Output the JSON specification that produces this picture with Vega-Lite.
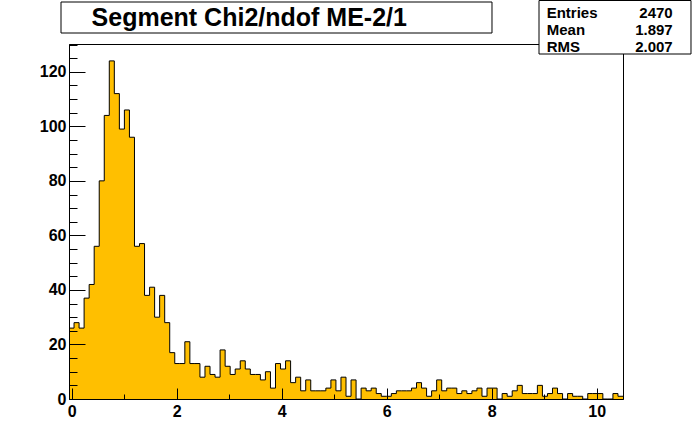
{
  "$schema": "https://vega.github.io/schema/vega-lite/v6.json",
  "width": 554,
  "height": 355,
  "autosize": {"type": "none"},
  "padding": {"left": 69, "top": 44, "right": 69, "bottom": 45},
  "background": "white",
  "config": {
    "view": {"stroke": "black", "strokeWidth": 1},
    "axis": {"grid": false, "title": null}
  },
  "datasets": {
    "hist": [
      {"lo": -0.05, "hi": 0.0459, "n": 26},
      {"lo": 0.0459, "hi": 0.1418, "n": 28},
      {"lo": 0.1418, "hi": 0.2377, "n": 26},
      {"lo": 0.2377, "hi": 0.3336, "n": 37},
      {"lo": 0.3336, "hi": 0.4295, "n": 42},
      {"lo": 0.4295, "hi": 0.5255, "n": 56},
      {"lo": 0.5255, "hi": 0.6214, "n": 80},
      {"lo": 0.6214, "hi": 0.7173, "n": 104},
      {"lo": 0.7173, "hi": 0.8132, "n": 124},
      {"lo": 0.8132, "hi": 0.9091, "n": 112},
      {"lo": 0.9091, "hi": 1.005, "n": 99},
      {"lo": 1.005, "hi": 1.1009, "n": 106},
      {"lo": 1.1009, "hi": 1.1968, "n": 96},
      {"lo": 1.1968, "hi": 1.2927, "n": 56},
      {"lo": 1.2927, "hi": 1.3886, "n": 57},
      {"lo": 1.3886, "hi": 1.4845, "n": 38},
      {"lo": 1.4845, "hi": 1.5805, "n": 41},
      {"lo": 1.5805, "hi": 1.6764, "n": 30},
      {"lo": 1.6764, "hi": 1.7723, "n": 38},
      {"lo": 1.7723, "hi": 1.8682, "n": 28},
      {"lo": 1.8682, "hi": 1.9641, "n": 17},
      {"lo": 1.9641, "hi": 2.06, "n": 13},
      {"lo": 2.06, "hi": 2.1559, "n": 13},
      {"lo": 2.1559, "hi": 2.2518, "n": 21},
      {"lo": 2.2518, "hi": 2.3477, "n": 13},
      {"lo": 2.3477, "hi": 2.4436, "n": 13},
      {"lo": 2.4436, "hi": 2.5395, "n": 8},
      {"lo": 2.5395, "hi": 2.6355, "n": 12},
      {"lo": 2.6355, "hi": 2.7314, "n": 9},
      {"lo": 2.7314, "hi": 2.8273, "n": 8},
      {"lo": 2.8273, "hi": 2.9232, "n": 18},
      {"lo": 2.9232, "hi": 3.0191, "n": 12},
      {"lo": 3.0191, "hi": 3.115, "n": 9},
      {"lo": 3.115, "hi": 3.2109, "n": 11},
      {"lo": 3.2109, "hi": 3.3068, "n": 14},
      {"lo": 3.3068, "hi": 3.4027, "n": 11},
      {"lo": 3.4027, "hi": 3.4986, "n": 9},
      {"lo": 3.4986, "hi": 3.5945, "n": 9},
      {"lo": 3.5945, "hi": 3.6905, "n": 7},
      {"lo": 3.6905, "hi": 3.7864, "n": 10},
      {"lo": 3.7864, "hi": 3.8823, "n": 4},
      {"lo": 3.8823, "hi": 3.9782, "n": 13},
      {"lo": 3.9782, "hi": 4.0741, "n": 11},
      {"lo": 4.0741, "hi": 4.17, "n": 14},
      {"lo": 4.17, "hi": 4.2659, "n": 6},
      {"lo": 4.2659, "hi": 4.3618, "n": 8},
      {"lo": 4.3618, "hi": 4.4577, "n": 3},
      {"lo": 4.4577, "hi": 4.5536, "n": 7},
      {"lo": 4.5536, "hi": 4.6495, "n": 3},
      {"lo": 4.6495, "hi": 4.7455, "n": 3},
      {"lo": 4.7455, "hi": 4.8414, "n": 3},
      {"lo": 4.8414, "hi": 4.9373, "n": 4},
      {"lo": 4.9373, "hi": 5.0332, "n": 7},
      {"lo": 5.0332, "hi": 5.1291, "n": 3},
      {"lo": 5.1291, "hi": 5.225, "n": 8},
      {"lo": 5.225, "hi": 5.3209, "n": 1},
      {"lo": 5.3209, "hi": 5.4168, "n": 7},
      {"lo": 5.4168, "hi": 5.5127, "n": 0},
      {"lo": 5.5127, "hi": 5.6086, "n": 4},
      {"lo": 5.6086, "hi": 5.7045, "n": 3},
      {"lo": 5.7045, "hi": 5.8005, "n": 4},
      {"lo": 5.8005, "hi": 5.8964, "n": 2},
      {"lo": 5.8964, "hi": 5.9923, "n": 1},
      {"lo": 5.9923, "hi": 6.0882, "n": 1},
      {"lo": 6.0882, "hi": 6.1841, "n": 2},
      {"lo": 6.1841, "hi": 6.28, "n": 3},
      {"lo": 6.28, "hi": 6.3759, "n": 3},
      {"lo": 6.3759, "hi": 6.4718, "n": 3},
      {"lo": 6.4718, "hi": 6.5677, "n": 4},
      {"lo": 6.5677, "hi": 6.6636, "n": 6},
      {"lo": 6.6636, "hi": 6.7595, "n": 4},
      {"lo": 6.7595, "hi": 6.8555, "n": 1},
      {"lo": 6.8555, "hi": 6.9514, "n": 3},
      {"lo": 6.9514, "hi": 7.0473, "n": 7},
      {"lo": 7.0473, "hi": 7.1432, "n": 3},
      {"lo": 7.1432, "hi": 7.2391, "n": 4},
      {"lo": 7.2391, "hi": 7.335, "n": 4},
      {"lo": 7.335, "hi": 7.4309, "n": 2},
      {"lo": 7.4309, "hi": 7.5268, "n": 3},
      {"lo": 7.5268, "hi": 7.6227, "n": 2},
      {"lo": 7.6227, "hi": 7.7186, "n": 3},
      {"lo": 7.7186, "hi": 7.8145, "n": 4},
      {"lo": 7.8145, "hi": 7.9105, "n": 1},
      {"lo": 7.9105, "hi": 8.0064, "n": 4},
      {"lo": 8.0064, "hi": 8.1023, "n": 4},
      {"lo": 8.1023, "hi": 8.1982, "n": 0},
      {"lo": 8.1982, "hi": 8.2941, "n": 2},
      {"lo": 8.2941, "hi": 8.39, "n": 1},
      {"lo": 8.39, "hi": 8.4859, "n": 3},
      {"lo": 8.4859, "hi": 8.5818, "n": 5},
      {"lo": 8.5818, "hi": 8.6777, "n": 2},
      {"lo": 8.6777, "hi": 8.7736, "n": 2},
      {"lo": 8.7736, "hi": 8.8695, "n": 2},
      {"lo": 8.8695, "hi": 8.9655, "n": 5},
      {"lo": 8.9655, "hi": 9.0614, "n": 1},
      {"lo": 9.0614, "hi": 9.1573, "n": 2},
      {"lo": 9.1573, "hi": 9.2532, "n": 4},
      {"lo": 9.2532, "hi": 9.3491, "n": 2},
      {"lo": 9.3491, "hi": 9.445, "n": 0},
      {"lo": 9.445, "hi": 9.5409, "n": 2},
      {"lo": 9.5409, "hi": 9.6368, "n": 1},
      {"lo": 9.6368, "hi": 9.7327, "n": 1},
      {"lo": 9.7327, "hi": 9.8286, "n": 0},
      {"lo": 9.8286, "hi": 9.9245, "n": 2},
      {"lo": 9.9245, "hi": 10.0205, "n": 2},
      {"lo": 10.0205, "hi": 10.1164, "n": 2},
      {"lo": 10.1164, "hi": 10.2123, "n": 0},
      {"lo": 10.2123, "hi": 10.3082, "n": 0},
      {"lo": 10.3082, "hi": 10.4041, "n": 2},
      {"lo": 10.4041, "hi": 10.5, "n": 1}
    ],
    "stats": [
      {"label": "Entries", "value": "2470"},
      {"label": "Mean", "value": "1.897"},
      {"label": "RMS", "value": "2.007"}
    ]
  },
  "resolve": {"axis": {"x": "independent", "y": "independent"}},
  "layer": [
    {
      "data": {"name": "hist"},
      "transform": [{"fold": ["lo", "hi"], "as": ["side", "edge"]}],
      "resolve": {"axis": {"x": "independent", "y": "independent"}},
      "layer": [
        {
          "mark": {"type": "area", "color": "#ffbf00", "opacity": 1},
          "encoding": {
            "x": {
              "field": "edge", "type": "quantitative",
              "scale": {"domain": [-0.05, 10.5], "nice": false, "zero": false},
              "axis": {
                "orient": "bottom", "values": [0, 2, 4, 6, 8, 10], "format": "d",
                "tickSize": -11, "tickColor": "black", "tickWidth": 1,
                "domainColor": "black", "labelPadding": 15,
                "labelFont": "Liberation Sans", "labelFontWeight": "bold", "labelFontSize": 16,
                "labelColor": "black", "labelFlush": false, "labelOverlap": false, "labelBound": false,
                "zindex": 1
              }
            },
            "y": {
              "field": "n", "type": "quantitative", "stack": null,
              "scale": {"domain": [0, 130.2], "nice": false, "zero": false},
              "axis": {
                "orient": "left", "values": [0, 20, 40, 60, 80, 100, 120], "format": "d",
                "tickSize": -16, "tickColor": "black", "tickWidth": 1,
                "domainColor": "black", "labelPadding": 19,
                "labelFont": "Liberation Sans", "labelFontWeight": "bold", "labelFontSize": 16,
                "labelColor": "black", "labelFlush": false, "labelOverlap": false, "labelBound": false,
                "zindex": 1
              }
            },
            "order": [
              {"field": "lo", "type": "quantitative"},
              {"field": "side", "sort": "descending"}
            ]
          }
        },
        {
          "mark": {"type": "line", "color": "black", "strokeWidth": 1},
          "encoding": {
            "x": {
              "field": "edge", "type": "quantitative",
              "axis": {
                "orient": "bottom", "values": [1, 3, 5, 7, 9], "labels": false, "domain": false,
                "tickSize": -5, "tickColor": "black", "tickWidth": 1, "zindex": 1
              }
            },
            "y": {
              "field": "n", "type": "quantitative",
              "axis": {
                "orient": "left",
                "values": [5, 10, 15, 25, 30, 35, 45, 50, 55, 65, 70, 75, 85, 90, 95, 105, 110, 115, 125, 130],
                "labels": false, "domain": false,
                "tickSize": -8, "tickColor": "black", "tickWidth": 1, "zindex": 1
              }
            },
            "order": [
              {"field": "lo", "type": "quantitative"},
              {"field": "side", "sort": "descending"}
            ]
          }
        }
      ]
    },
    {
      "data": {"values": [{"title": "Segment Chi2/ndof ME-2/1"}]},
      "layer": [
        {
          "mark": {"type": "rect", "fill": "white", "stroke": "black", "strokeWidth": 1},
          "encoding": {
            "x": {"datum": -0.2023, "type": "quantitative", "axis": null},
            "x2": {"datum": 8.0052},
            "y": {"datum": 145.6, "type": "quantitative", "axis": null},
            "y2": {"datum": 134.23}
          }
        },
        {
          "mark": {"type": "text", "align": "left", "baseline": "alphabetic", "font": "Liberation Sans", "fontWeight": "bold", "fontSize": 25, "color": "black"},
          "encoding": {
            "x": {"datum": 0.38, "type": "quantitative", "axis": null},
            "y": {"datum": 136.8, "type": "quantitative", "axis": null},
            "text": {"field": "title"}
          }
        }
      ]
    },
    {
      "data": {"values": [{"box": "stats"}]},
      "mark": {"type": "rect", "fill": "white", "stroke": "black", "strokeWidth": 1},
      "encoding": {
        "x": {"datum": 8.9004, "type": "quantitative", "axis": null},
        "x2": {"datum": 11.7949},
        "y": {"datum": 146.15, "type": "quantitative", "axis": null},
        "y2": {"datum": 126.53}
      }
    },
    {
      "data": {"name": "stats"},
      "transform": [{"filter": "datum.label === 'Entries'"}],
      "encoding": {"y": {"datum": 139.63, "type": "quantitative", "axis": null}},
      "layer": [
        {
          "mark": {"type": "text", "align": "left", "baseline": "alphabetic", "font": "Liberation Sans", "fontWeight": "bold", "fontSize": 15, "color": "black"},
          "encoding": {"x": {"datum": 9.047, "type": "quantitative", "axis": null}, "text": {"field": "label"}}
        },
        {
          "mark": {"type": "text", "align": "right", "baseline": "alphabetic", "font": "Liberation Sans", "fontWeight": "bold", "fontSize": 15, "color": "black"},
          "encoding": {"x": {"datum": 11.4464, "type": "quantitative", "axis": null}, "text": {"field": "value"}}
        }
      ]
    },
    {
      "data": {"name": "stats"},
      "transform": [{"filter": "datum.label === 'Mean'"}],
      "encoding": {"y": {"datum": 133.5, "type": "quantitative", "axis": null}},
      "layer": [
        {
          "mark": {"type": "text", "align": "left", "baseline": "alphabetic", "font": "Liberation Sans", "fontWeight": "bold", "fontSize": 15, "color": "black"},
          "encoding": {"x": {"datum": 9.047, "type": "quantitative", "axis": null}, "text": {"field": "label"}}
        },
        {
          "mark": {"type": "text", "align": "right", "baseline": "alphabetic", "font": "Liberation Sans", "fontWeight": "bold", "fontSize": 15, "color": "black"},
          "encoding": {"x": {"datum": 11.4464, "type": "quantitative", "axis": null}, "text": {"field": "value"}}
        }
      ]
    },
    {
      "data": {"name": "stats"},
      "transform": [{"filter": "datum.label === 'RMS'"}],
      "encoding": {"y": {"datum": 127.38, "type": "quantitative", "axis": null}},
      "layer": [
        {
          "mark": {"type": "text", "align": "left", "baseline": "alphabetic", "font": "Liberation Sans", "fontWeight": "bold", "fontSize": 15, "color": "black"},
          "encoding": {"x": {"datum": 9.047, "type": "quantitative", "axis": null}, "text": {"field": "label"}}
        },
        {
          "mark": {"type": "text", "align": "right", "baseline": "alphabetic", "font": "Liberation Sans", "fontWeight": "bold", "fontSize": 15, "color": "black"},
          "encoding": {"x": {"datum": 11.4464, "type": "quantitative", "axis": null}, "text": {"field": "value"}}
        }
      ]
    }
  ]
}
